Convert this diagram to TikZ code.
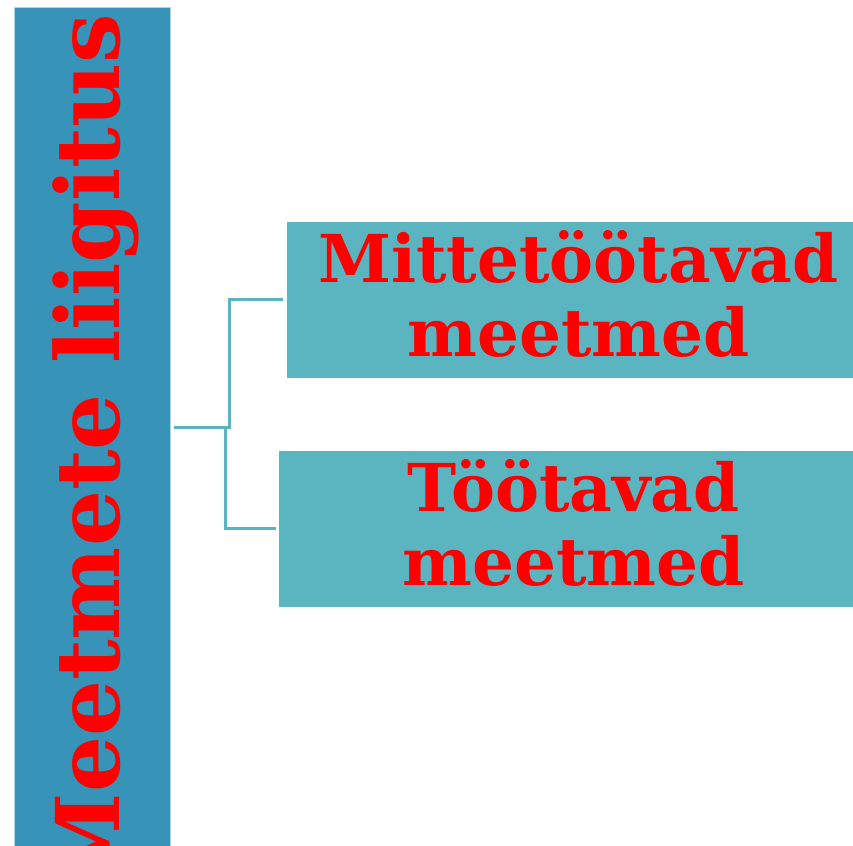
\documentclass[tikz,border=0pt]{standalone}
\usepackage{fontspec}
\setmainfont{DejaVu Serif}
\definecolor{barblue}{HTML}{3793B7}
\definecolor{boxteal}{HTML}{5AB5C0}
\definecolor{txtred}{HTML}{FF0000}
\begin{document}
\begin{tikzpicture}[x=1pt,y=1pt,
  boxnode/.style={fill=boxteal, draw=white, line width=0.8pt, minimum height=157pt,
    inner sep=0pt, text=txtred, font=\bfseries\fontsize{66}{74}\selectfont, align=center,
    text depth=13pt},
  conn/.style={draw=boxteal, line width=3pt},
  titletext/.style={rotate=90, anchor=base east, inner sep=0pt, text=txtred,
    font=\bfseries\fontsize{88}{88}\selectfont}]
\clip (0,0) rectangle (853,845);
\fill[white] (0,0) rectangle (853,845);
\node[fill=barblue, draw=barblue!40!white, line width=0.8pt, minimum width=156pt,
  minimum height=860pt, anchor=north west, inner sep=0pt] (bar) at (14,838) {};
\node[titletext] (title) at (119,831) {Meetmete liigitus};
\node[boxnode, minimum width=584pt, anchor=north west] (b1) at (286,624) {Mittetöötavad\\meetmed};
\node[boxnode, minimum width=590pt, anchor=north west] (b2) at (278,395) {Töötavad\\meetmed};
\coordinate (s) at (174,417);
\draw[conn] (s) -- ++(55,0) |- ([xshift=-3pt]b1.west);
\draw[conn] (s) -- ++(51,0) |- ([xshift=-2pt]b2.west);
\end{tikzpicture}
\end{document}
